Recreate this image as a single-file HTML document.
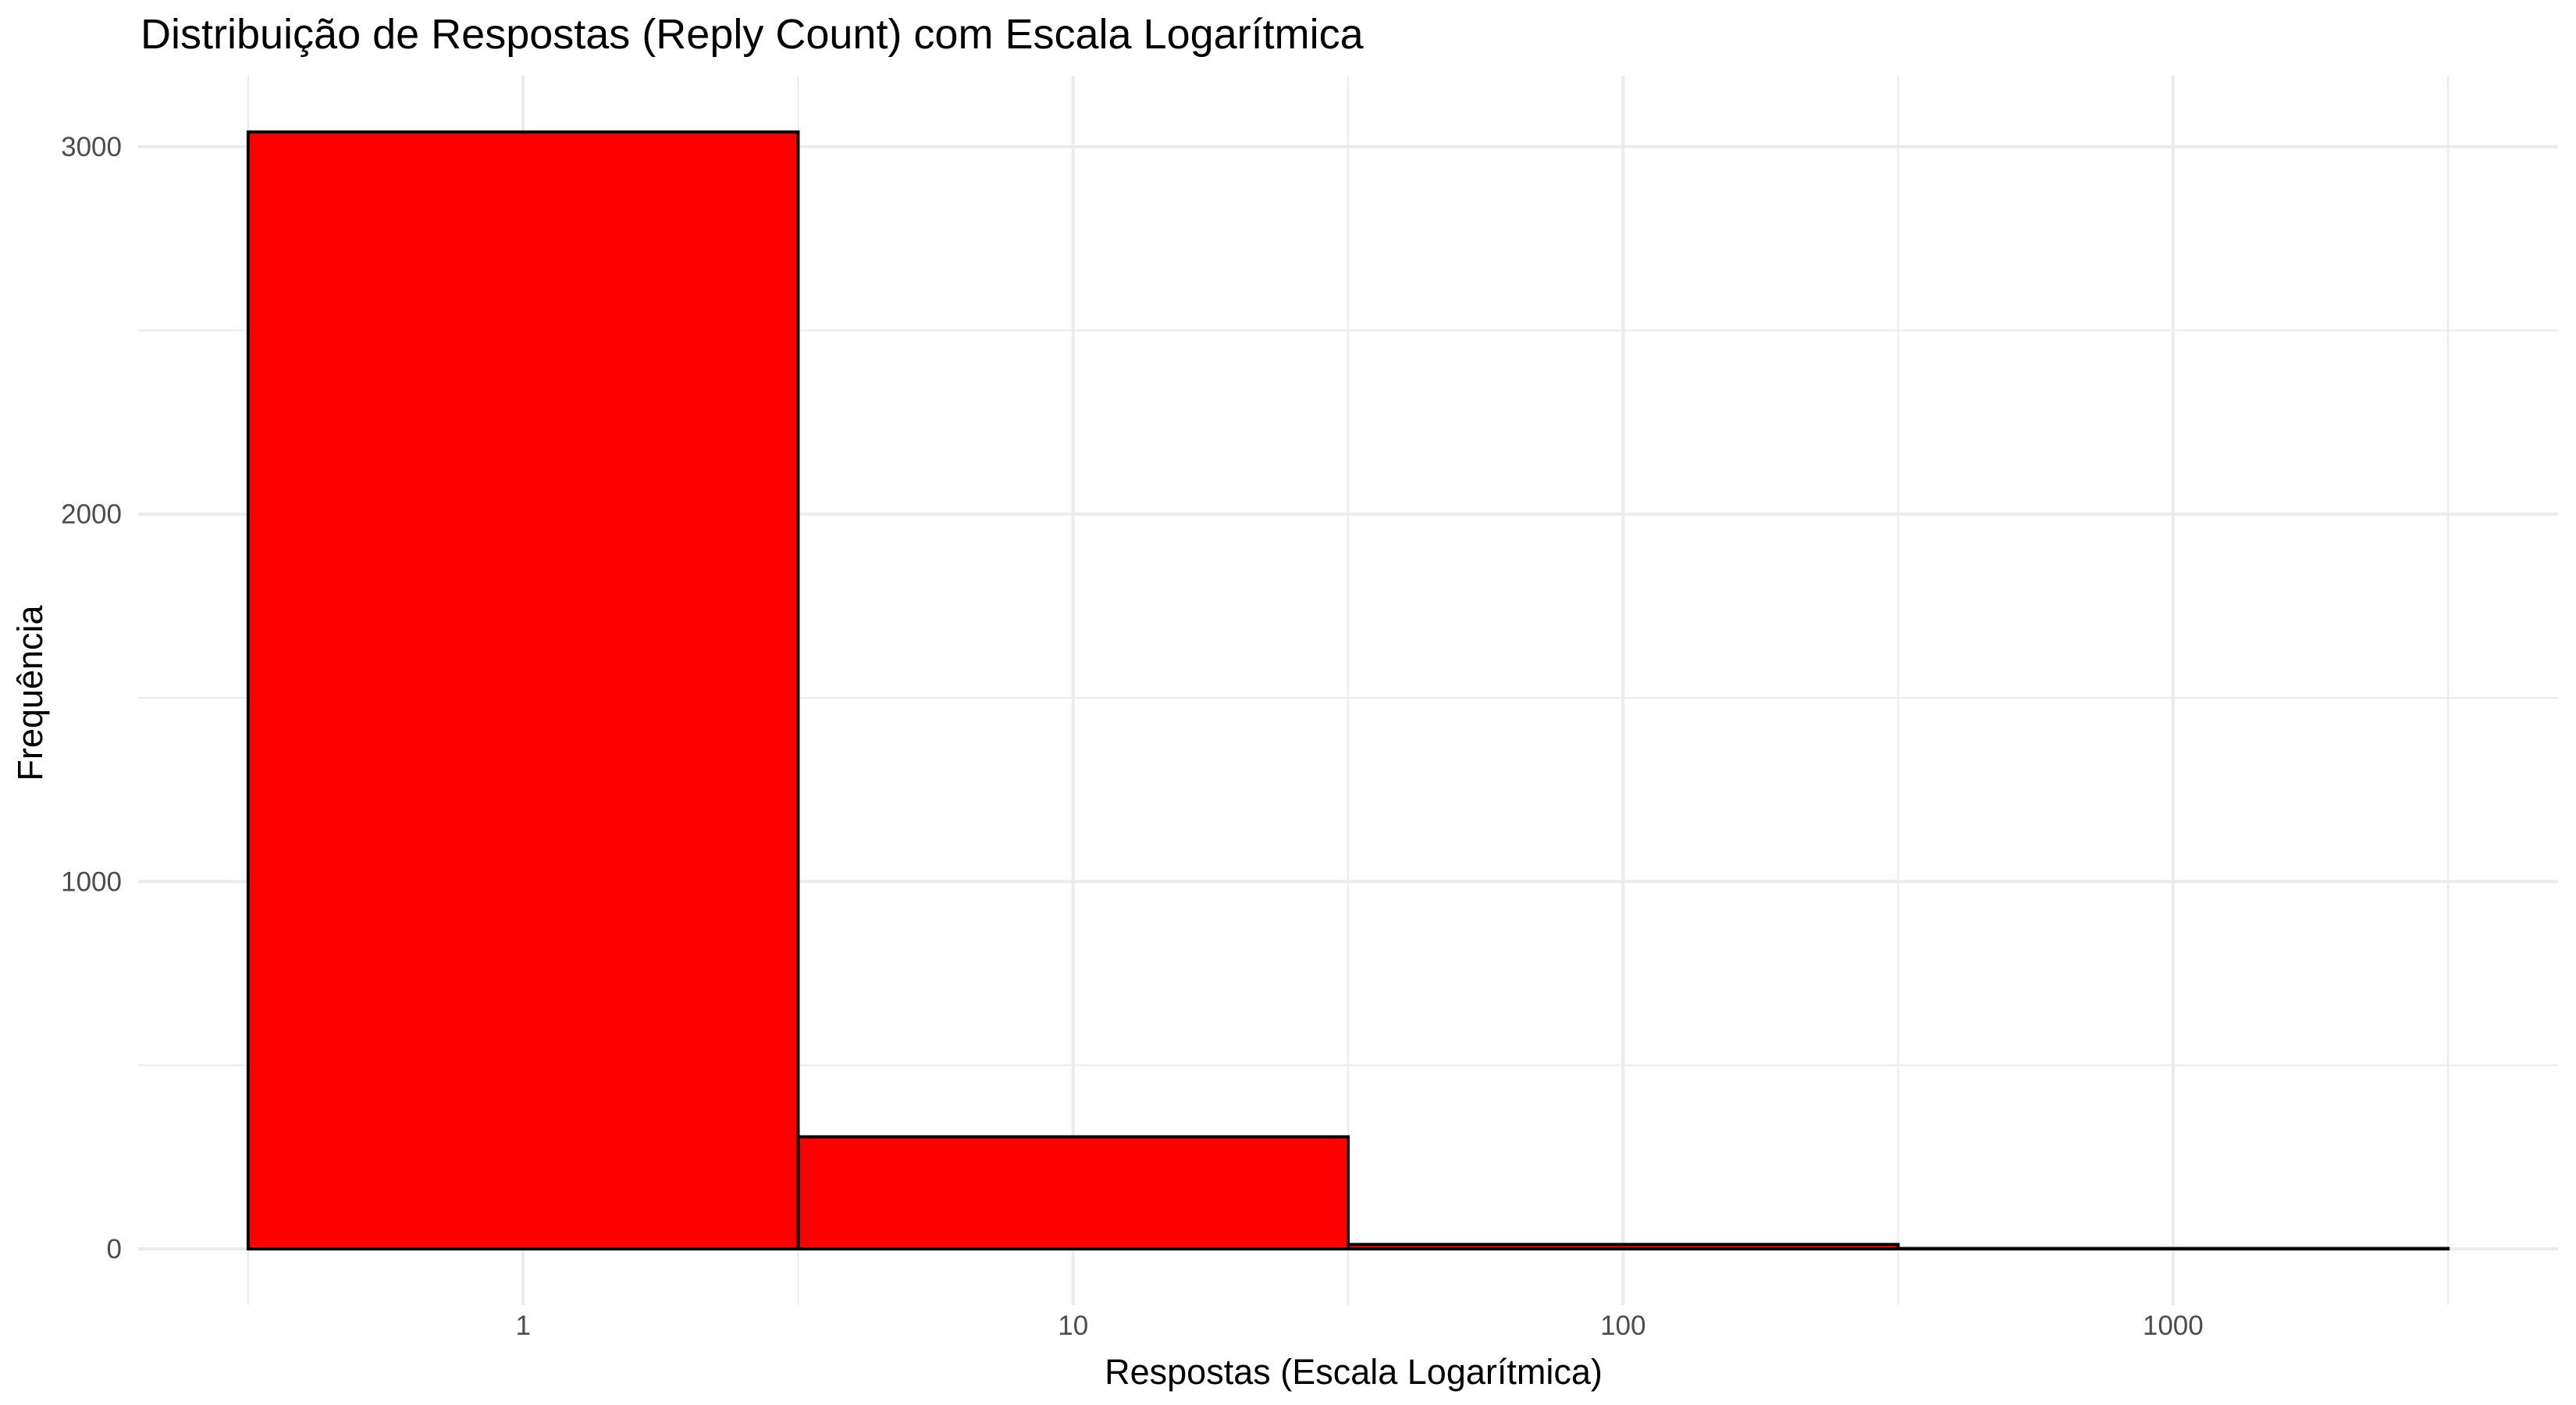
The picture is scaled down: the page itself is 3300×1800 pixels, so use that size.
<!DOCTYPE html>
<html><head><meta charset="utf-8"><style>
html,body{margin:0;padding:0;background:#fff;}
svg{display:block;font-family:"Liberation Sans",Arial,sans-serif;}
</style></head><body>
<svg id="chart" width="3300" height="1800" viewBox="0 0 3300 1800" xmlns="http://www.w3.org/2000/svg">
<rect x="0" y="0" width="3300" height="1800" fill="#fff"/>
<g id="grid"></g>
<g id="bars"></g>
<g id="axes"></g>
<text x="180" y="62" font-size="54" fill="#000">Distribuição de Respostas (Reply Count) com Escala Logarítmica</text>
<text x="1734" y="1773" font-size="45" fill="#000" text-anchor="middle">Respostas (Escala Logarítmica)</text>
<text x="0" y="0" font-size="45" fill="#000" text-anchor="middle" transform="translate(54,888) rotate(-90)">Frequência</text>
</svg>
<script>
const binEdgesLog = [-0.5, 0.5, 1.5, 2.5, 3.5];
const counts = [3040, 305, 12, 1];
const xTickValues = [1, 10, 100, 1000];
const xTickLabels = ["1", "10", "100", "1000"];
const yTickValues = [0, 1000, 2000, 3000];
const yTickLabels = ["0", "1000", "2000", "3000"];
const yMinorValues = [500, 1500, 2500];

const NS = "http://www.w3.org/2000/svg";
const panelL = 177, panelR = 3277, panelT = 97, panelB = 1672;
const xMin = -0.7, xMax = 3.7;
const y0px = 1600, y3000px = 188;
function xs(l){ return panelL + (l - xMin) / (xMax - xMin) * (panelR - panelL); }
function ys(v){ return y0px - v / 3000 * (y0px - y3000px); }
function mk(tag, attrs, parent){
  const e = document.createElementNS(NS, tag);
  for (const k in attrs) e.setAttribute(k, attrs[k]);
  parent.appendChild(e); return e;
}
const grid = document.getElementById('grid');
const bars = document.getElementById('bars');
const axes = document.getElementById('axes');

yMinorValues.forEach(v => {
  const l = mk('line', {x1: panelL, x2: panelR, y1: ys(v), y2: ys(v), stroke: '#ebebeb', 'stroke-width': 2}, grid);
  
  
});
binEdgesLog.forEach(e => {
  const l = mk('line', {x1: xs(e), x2: xs(e), y1: panelT, y2: panelB, stroke: '#ebebeb', 'stroke-width': 2}, grid);
  
  
});
yTickValues.forEach((v, i) => {
  const l = mk('line', {x1: panelL, x2: panelR, y1: ys(v), y2: ys(v), stroke: '#ebebeb', 'stroke-width': 4}, grid);
  
  
  const t = mk('text', {x: 156, y: ys(v) + 12, 'font-size': 35, fill: '#4d4d4d', 'text-anchor': 'end'}, axes);
  t.textContent = yTickLabels[i];
  
  
});
xTickValues.forEach((v, i) => {
  const x = xs(Math.log10(v));
  const l = mk('line', {x1: x, x2: x, y1: panelT, y2: panelB, stroke: '#ebebeb', 'stroke-width': 4}, grid);
  
  
  const t = mk('text', {x: x, y: 1710, 'font-size': 35, fill: '#4d4d4d', 'text-anchor': 'middle'}, axes);
  t.textContent = xTickLabels[i];
  
  
});
counts.forEach((c, i) => {
  const x1 = xs(binEdgesLog[i]), x2 = xs(binEdgesLog[i + 1]);
  const r = mk('rect', {x: x1, y: ys(c), width: x2 - x1, height: ys(0) - ys(c), fill: '#ff0000', stroke: '#000', 'stroke-width': 4}, bars);
  
  
});
</script>
</body></html>
